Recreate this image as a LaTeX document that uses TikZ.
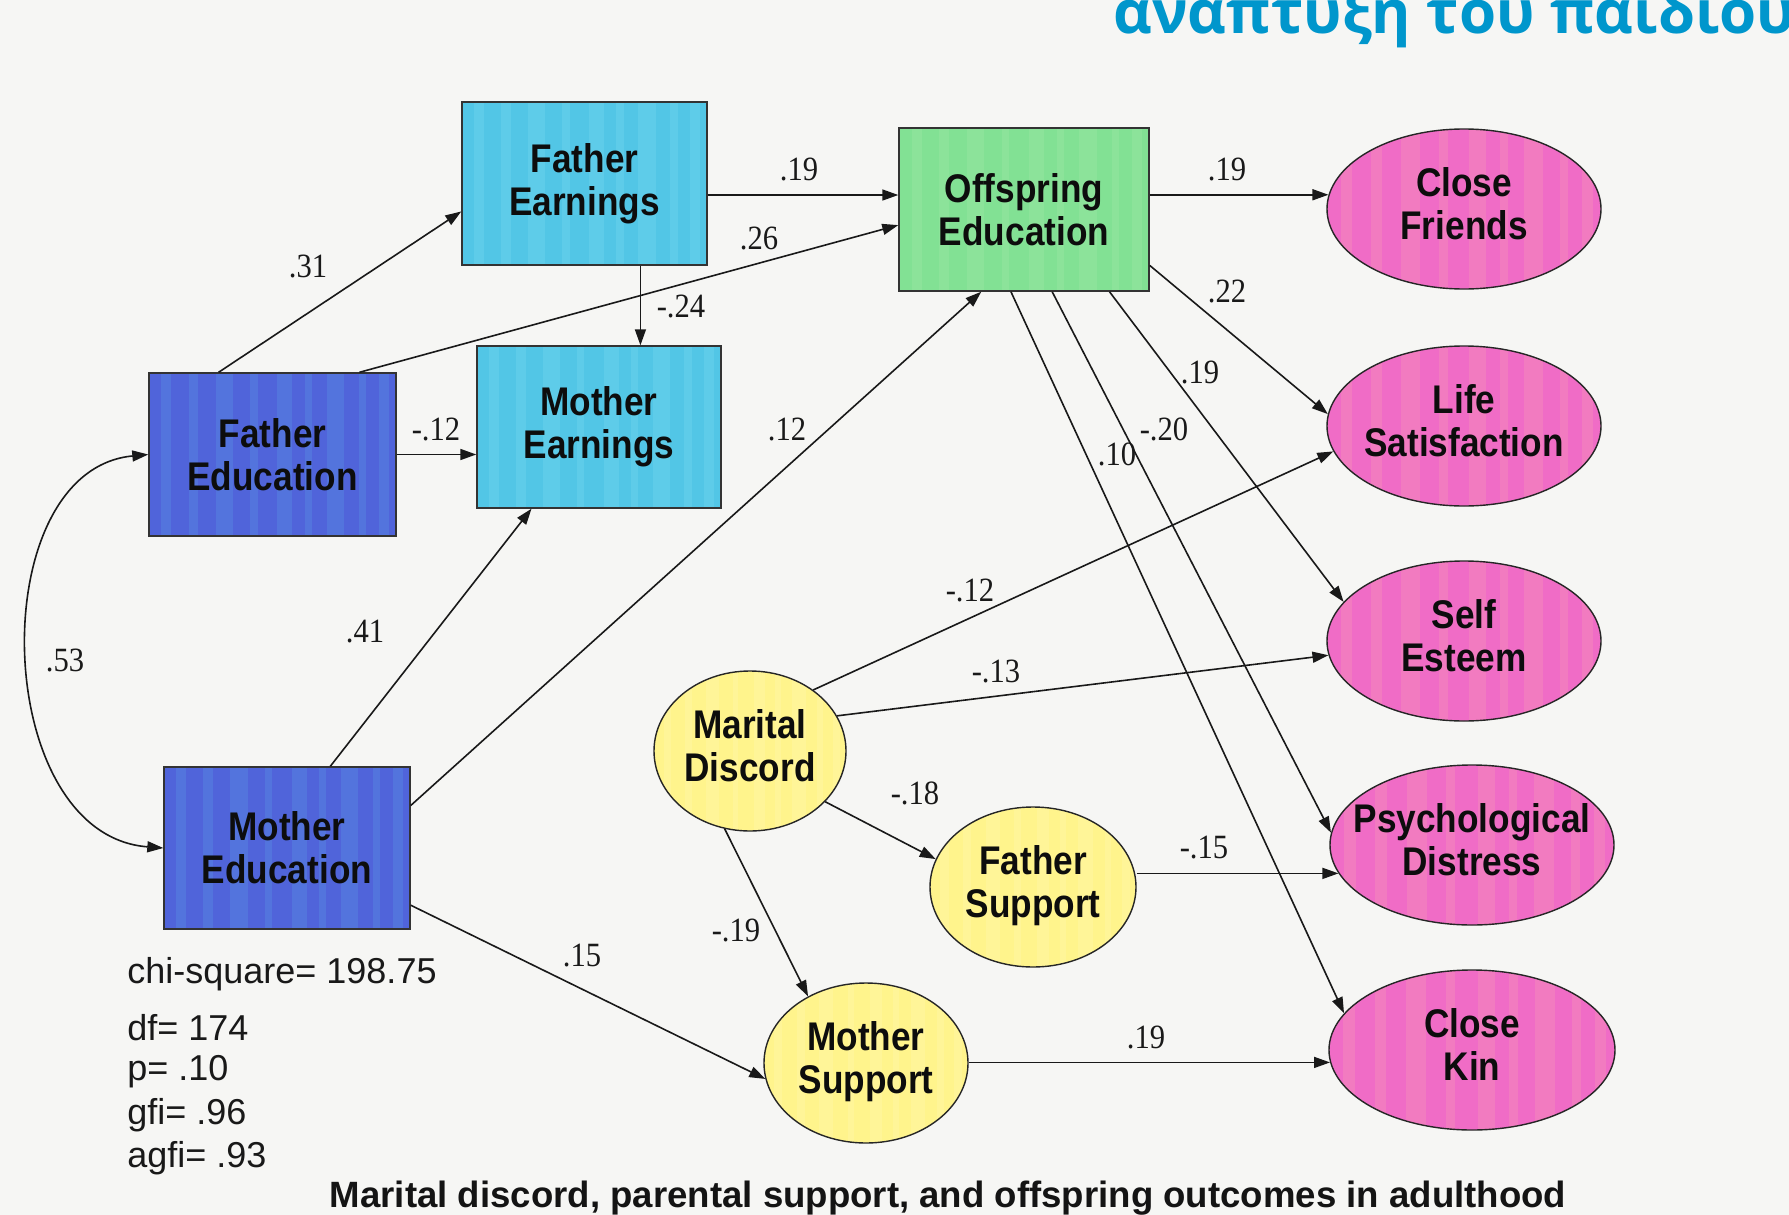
\documentclass[tikz,border=0pt]{standalone}
\usepackage{fontspec}
\setmainfont{Liberation Sans}
\newfontfamily\boxfont[FakeStretch=0.88]{Liberation Sans}
\newfontfamily\numfont[FakeStretch=0.9]{Liberation Serif}
\newfontfamily\grfont{Open Sans}
\usetikzlibrary{shapes.geometric,arrows.meta,calc}
\definecolor{bgc}{HTML}{F6F6F4}
\definecolor{edblue}{HTML}{5064DA}
\definecolor{edstripe}{HTML}{5A9CE6}
\definecolor{earncyan}{HTML}{52C6E6}
\definecolor{earnstripe}{HTML}{7ADCF0}
\definecolor{offgreen}{HTML}{82E194}
\definecolor{offstripe}{HTML}{A4EAA8}
\definecolor{pinkc}{HTML}{F06CC6}
\definecolor{pinkstripe}{HTML}{F7A0B4}
\definecolor{yellowc}{HTML}{FFF48C}
\definecolor{yellowstripe}{HTML}{FFFAB4}
\definecolor{titleblue}{HTML}{0096CC}
\newcommand{\twol}[2]{\makebox[0pt]{\begin{tabular}{@{}c@{}}#1\\#2\end{tabular}}}
\begin{document}
\begin{tikzpicture}[x=0.5pt,y=-0.5pt,
  stripes/.style={path picture={
    \foreach \p/\q in {0.05/0.09,0.16/0.2,0.27/0.34,0.41/0.44,0.52/0.58,0.63/0.66,0.72/0.79,0.85/0.88,0.93/0.97}{
      \fill[#1, opacity=0.3] ($(path picture bounding box.south west)!\p!(path picture bounding box.south east)$)
        rectangle ($(path picture bounding box.north west)!\q!(path picture bounding box.north east)$);}}},
  box/.style={draw=black!80, line width=0.7pt, rectangle, align=center, inner sep=0pt,
    text=black!95, font=\boxfont\bfseries\fontsize{20}{21.5}\selectfont},
  ell/.style={draw=black!85, line width=0.7pt, ellipse, inner sep=0pt, minimum height=80pt,
    text=black!95, font=\boxfont\bfseries\fontsize{20}{21.5}\selectfont},
  lab/.style={font=\numfont\fontsize{17}{17}\selectfont, inner sep=1pt, text=black!90},
  stat/.style={font=\fontsize{18}{18}\selectfont, anchor=west, inner sep=0pt, text=black!90},
  arr/.style={draw=black!90, line width=0.8pt, -{Triangle[length=8pt,width=5.5pt]}},
  dbl/.style={draw=black!90, line width=0.8pt, {Triangle[length=8pt,width=5.5pt]}-{Triangle[length=8pt,width=5.5pt]}}
]
\path[use as bounding box, fill=bgc] (0,0) rectangle (1789,1215);
\begin{scope}
  \clip (0,0) rectangle (1789,1215);
  \node[anchor=base west, inner sep=0pt, text=titleblue, font=\grfont\bfseries\fontsize{30}{30}\selectfont] (title) at (1113,33) {ανάπτυξη του παιδιού};
\end{scope}

% boxes
\node[box, fill=earncyan, stripes=earnstripe, minimum width=122.5pt, minimum height=81.5pt] (fearn) at (584.5,183.5) {Father\\Earnings};
\node[box, fill=offgreen, stripes=offstripe, minimum width=125pt, minimum height=81.5pt] (offed) at (1024,209.5) {Offspring\\Education};
\node[box, fill=edblue, stripes=edstripe, minimum width=123.5pt, minimum height=81.5pt] (fed) at (272.5,454.5) {Father\\Education};
\node[box, fill=earncyan, stripes=earnstripe, minimum width=122pt, minimum height=81pt] (mearn) at (599,427) {Mother\\Earnings};
\node[box, fill=edblue, stripes=edstripe, minimum width=123pt, minimum height=81pt] (med) at (287,848) {Mother\\Education};

% outcome ellipses
\node[ell, fill=pinkc, stripes=pinkstripe, minimum width=137pt] (cf) at (1464,209) {\twol{Close}{Friends}};
\node[ell, fill=pinkc, stripes=pinkstripe, minimum width=137pt] (ls) at (1464,426) {\twol{Life}{Satisfaction}};
\node[ell, fill=pinkc, stripes=pinkstripe, minimum width=137pt] (se) at (1464,641) {\twol{Self}{Esteem}};
\node[ell, fill=pinkc, stripes=pinkstripe, minimum width=142pt] (pd) at (1472,845) {\twol{Psychological}{Distress}};
\node[ell, fill=pinkc, stripes=pinkstripe, minimum width=143pt] (ck) at (1472,1050) {\twol{Close}{Kin}};

% yellow ellipses
\node[ell, fill=yellowc, stripes=yellowstripe, minimum width=96pt] (md) at (750,751) {\twol{Marital}{Discord}};
\node[ell, fill=yellowc, stripes=yellowstripe, minimum width=103pt] (fs) at (1033,887) {\twol{Father}{Support}};
\node[ell, fill=yellowc, stripes=yellowstripe, minimum width=102pt] (ms) at (866,1063) {\twol{Mother}{Support}};

% connectors
\draw[arr] ($(fed.north west)!0.283!(fed.north east)$) -- ($(fearn.north west)!0.67!(fearn.south west)$);
\draw[arr] ($(fed.north west)!0.85!(fed.north east)$) -- ($(offed.north west)!0.595!(offed.south west)$);
\coordinate (h1) at ($(fearn.north east)!0.57!(fearn.south east)$);
\draw[arr] (h1) -- (h1 -| offed.west);
\coordinate (v1) at ($(fearn.south west)!0.727!(fearn.south east)$);
\draw[arr] (v1) -- (v1 |- mearn.north);
\draw[arr] (fed.east) -- (fed.east -| mearn.west);
\draw[arr] ($(med.north west)!0.675!(med.north east)$) -- ($(mearn.south west)!0.225!(mearn.south east)$);
\draw[arr] ($(med.north east)!0.24!(med.south east)$) -- ($(offed.south west)!0.33!(offed.south east)$);
\draw[arr] ($(med.north east)!0.85!(med.south east)$) -- (ms.189);
\draw[dbl] (fed.west) .. controls (-18,470) and (-10,835) .. (med.west);
\draw[arr] (offed.east |- cf.174) -- (cf.174);
\draw[arr] ($(offed.north east)!0.84!(offed.south east)$) -- (ls.175);
\draw[arr] ($(offed.south west)!0.84!(offed.south east)$) -- (se.162);
\draw[arr] ($(offed.south west)!0.612!(offed.south east)$) -- (pd.175);
\draw[arr] ($(offed.south west)!0.448!(offed.south east)$) -- (ck.164);
\draw[arr] (md.44) -- (ls.191);
\draw[arr] (md.22) -- (se.186);
\draw[arr] (md.-34) -- (fs.164);
\draw[arr] (md.252) -- (ms.131);
\draw[arr] (fs.east |- pd.192) -- (pd.192);
\draw[arr] (ms.east |- ck.185) -- (ck.185);

% coefficient labels
\node[lab] (l31) at (308,266) {.31};
\node[lab] (l26) at (759,238) {.26};
\node[lab] (l19a) at (799,169) {.19};
\node[lab] (l24) at (681,306) {-.24};
\node[lab] (l12a) at (436,429) {-.12};
\node[lab] (l41) at (365,632) {.41};
\node[lab] (l12b) at (787,429) {.12};
\node[lab] (l15) at (582,956) {.15};
\node[lab] (l53) at (65,660) {.53};
\node[lab] (l19b) at (1227,169) {.19};
\node[lab] (l22) at (1227,291) {.22};
\node[lab] (l19c) at (1200,372) {.19};
\node[lab] (l20) at (1164,429) {-.20};
\node[lab] (l10) at (1117,454) {.10};
\node[lab] (l12c) at (970,590) {-.12};
\node[lab] (l13) at (996,671) {-.13};
\node[lab] (l18) at (915,793) {-.18};
\node[lab] (l19d) at (736,930) {-.19};
\node[lab] (l15b) at (1204,848) {-.15};
\node[lab] (l19e) at (1146,1037) {.19};

% fit statistics
\node[stat] (s1) at (127,974) {chi-square= 198.75};
\node[stat] (s2) at (127,1028) {df= 174};
\node[stat] (s3) at (127,1072) {p= .10};
\node[stat] (s4) at (127,1115) {gfi= .96};
\node[stat] (s5) at (127,1158) {agfi= .93};

% caption
\node[inner sep=0pt, text=black!92, font=\bfseries\fontsize{18.3}{18.3}\selectfont] (cap) at (948,1198) {Marital discord, parental support, and offspring outcomes in adulthood};
\end{tikzpicture}
\end{document}
